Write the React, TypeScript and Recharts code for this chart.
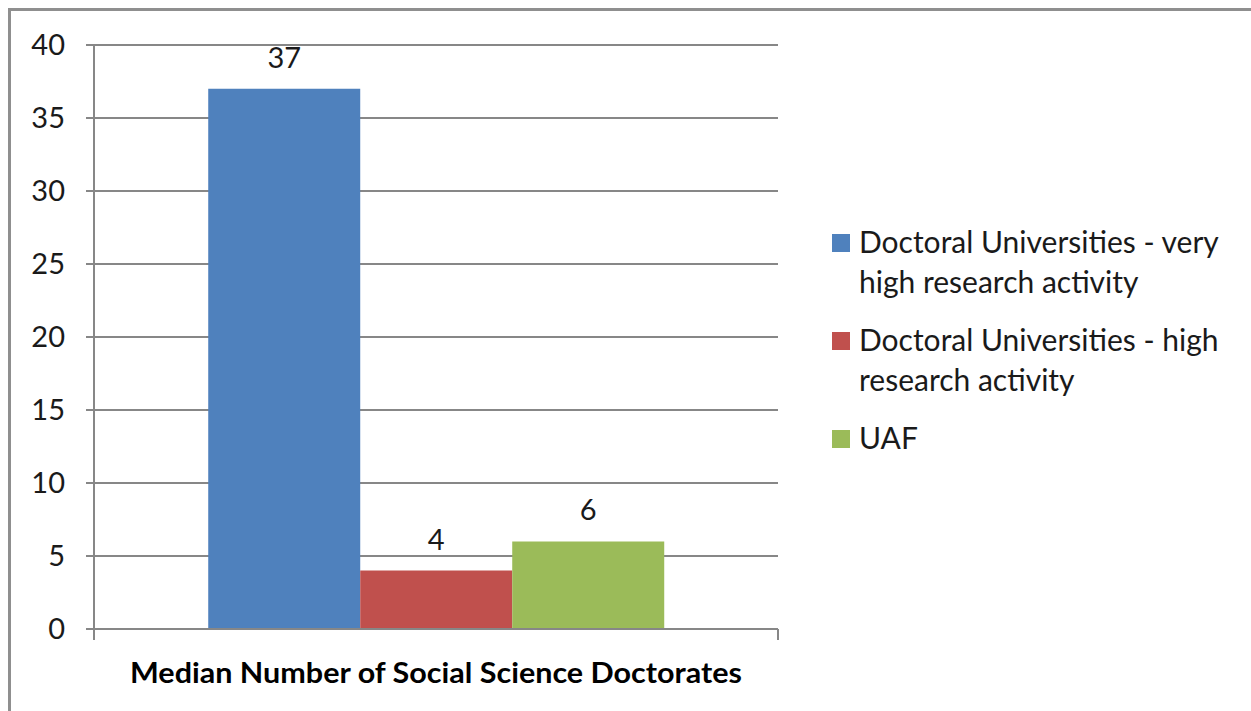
import * as R from "recharts";
import {
  BarChart,
  Bar,
  XAxis,
  YAxis,
  CartesianGrid,
  Legend,
  LabelList,
} from "recharts";

const categories: string[] = ["Median Number of Social Science Doctorates"];

const seriesNames: string[] = [
  "Doctoral Universities - very high research activity",
  "Doctoral Universities - high research activity",
  "UAF",
];

const veryHighValues: number[] = [37];
const highValues: number[] = [4];
const uafValues: number[] = [6];

const yTicks: number[] = [0, 5, 10, 15, 20, 25, 30, 35, 40];

const colors: string[] = [
  "#4f81bd", // blue
  "#c0504d", // red
  "#9bbb59", // green
];

const seriesKeys = ["veryHigh", "high", "uaf"];

const data = categories.map((category, i) => ({
  category,
  veryHigh: veryHighValues[i],
  high: highValues[i],
  uaf: uafValues[i],
}));

const gridColor = "#878787";
const textColor = "#1a1a1a";
const font = "Lato, 'Open Sans', sans-serif";

// plot-area hook may not exist in every recharts 3 build
const usePlotAreaSafe: () => any = (R as any).usePlotArea ?? (() => null);

const EdgeTicks = () => {
  const area = usePlotAreaSafe();
  if (!area) return null;
  const y = area.y + area.height;
  return (
    <g>
      {[area.x, area.x + area.width].map((x: number) => (
        <line key={x} x1={x} x2={x} y1={y} y2={y + 11} stroke={gridColor} strokeWidth={2} />
      ))}
    </g>
  );
};

const CategoryTick = (props: any) => {
  const { x, y, payload } = props;
  return (
    <text
      x={x}
      y={y}
      dy={52}
      textAnchor="middle"
      fontFamily={font}
      fontWeight="bold"
      fontSize={28}
      fill="#000"
      textLength={612}
      lengthAdjust="spacingAndGlyphs"
    >
      {payload.value}
    </text>
  );
};

// legend drawn in series order, not sorted by name
const LegendContent = () => (
  <div style={{ fontFamily: font, fontSize: 30, color: textColor }}>
    {seriesNames.map((name, i) => (
      <div
        key={name}
        style={{ display: "flex", alignItems: "flex-start", marginBottom: 18 }}
      >
        <div
          style={{
            width: 18,
            height: 18,
            background: colors[i],
            marginTop: 13,
            marginRight: 9,
            flex: "none",
          }}
        />
        <div style={{ width: 385, lineHeight: "40px" }}>{name}</div>
      </div>
    ))}
  </div>
);

const App = () => {
  return (
    <div style={{ position: "relative", width: 1235, height: 695 }}>
      <BarChart
        width={1235}
        height={695}
        data={data}
        margin={{ top: 37, right: 465, bottom: 0, left: 26 }}
        barCategoryGap="16.7%"
        barGap={0}
        style={{ outline: "none" }}
      >
        <CartesianGrid vertical={false} stroke={gridColor} strokeWidth={2} />
        <XAxis
          dataKey="category"
          height={74}
          tickLine={false}
          tickSize={0}
          axisLine={{ stroke: gridColor, strokeWidth: 2 }}
          tick={<CategoryTick />}
        />
        <YAxis
          width={60}
          domain={[0, 40]}
          ticks={yTicks}
          interval={0}
          tickSize={8}
          tickMargin={21}
          axisLine={{ stroke: gridColor, strokeWidth: 2 }}
          tickLine={{ stroke: gridColor, strokeWidth: 2 }}
          tick={{ fontFamily: font, fontSize: 29, fill: textColor }}
        />
        <Legend
          layout="vertical"
          align="center"
          verticalAlign="middle"
          content={<LegendContent />}
          wrapperStyle={{ left: 824, top: 213, width: 420, height: "auto" }}
        />
        {seriesKeys.map((key, i) => (
          <Bar
            key={key}
            dataKey={key}
            name={seriesNames[i]}
            fill={colors[i]}
            isAnimationActive={false}
          >
            <LabelList
              dataKey={key}
              position="top"
              offset={21}
              style={{ fontFamily: font, fontSize: 29, fill: textColor }}
            />
          </Bar>
        ))}
        <EdgeTicks />
      </BarChart>
      {/* frame runs off the page on the right and bottom, like the slide crop */}
      <div
        style={{
          position: "fixed",
          left: 8,
          top: 8,
          width: 1400,
          height: 900,
          borderTop: "3px solid #8f8f8f",
          borderLeft: "3px solid #8f8f8f",
          boxSizing: "border-box",
          pointerEvents: "none",
        }}
      />
    </div>
  );
};

export default App;
